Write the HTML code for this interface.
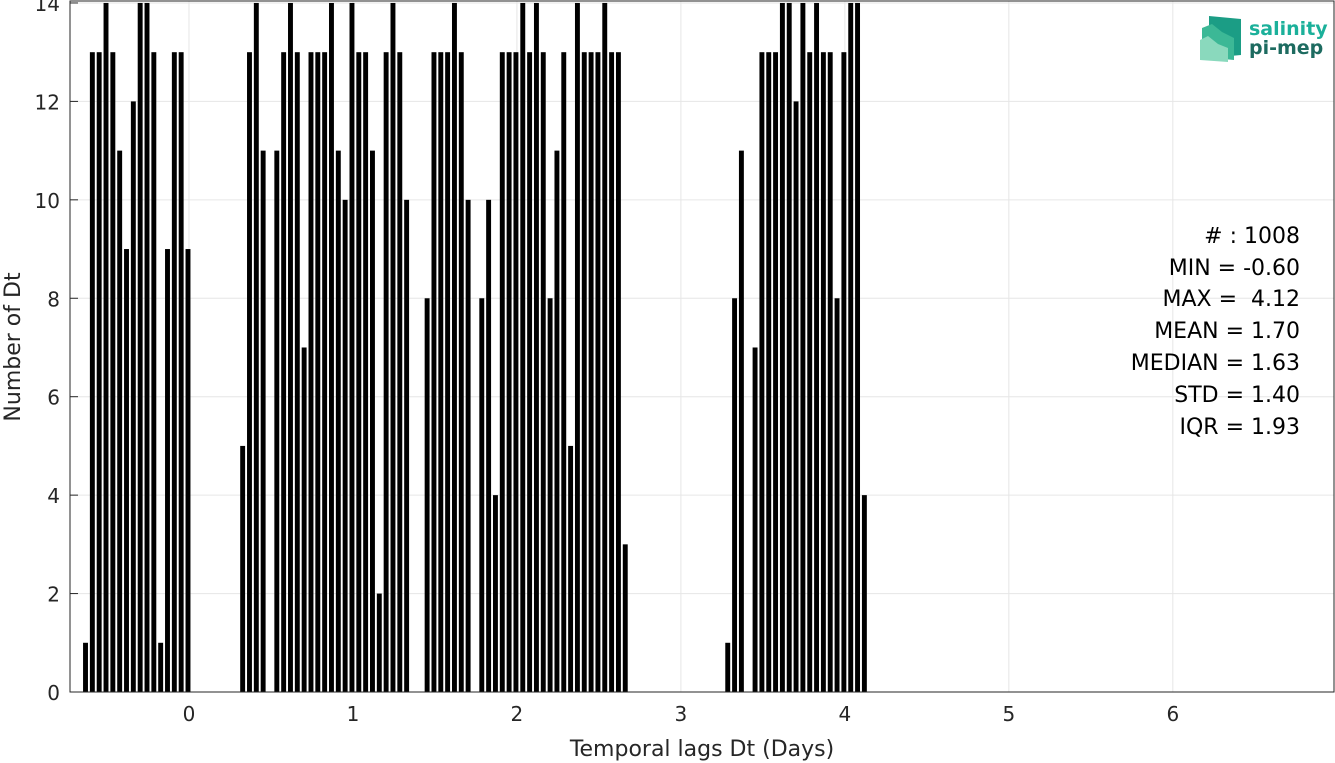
<!DOCTYPE html>
<html><head><meta charset="utf-8"><style>
body{margin:0;background:#fff;}
svg{display:block;font-family:"DejaVu Sans","Liberation Sans",sans-serif;}
</style></head><body>
<svg id="chart" width="1335" height="763" viewBox="0 0 1335 763">
<rect x="0" y="0" width="1335" height="763" fill="#fff"/>
<g id="grid"></g>
<g id="bars"></g>
<g id="axes"></g>
<text x="702" y="756" font-size="22" fill="#262626" text-anchor="middle">Temporal lags Dt (Days)</text>
<text transform="translate(20,347) rotate(-90)" font-size="22" fill="#262626" text-anchor="middle">Number of Dt</text>
<g font-size="22" fill="#000" text-anchor="end">
<text x="1300" y="243"># : 1008</text>
<text x="1300" y="275">MIN = -0.60</text>
<text x="1300" y="306" xml:space="preserve">MAX =  4.12</text>
<text x="1300" y="338">MEAN = 1.70</text>
<text x="1300" y="370">MEDIAN = 1.63</text>
<text x="1300" y="402">STD = 1.40</text>
<text x="1300" y="434">IQR = 1.93</text>
</g>
<g>
<polygon points="1209,16 1241,19 1241,55 1209,58" fill="#1b9d85"/>
<polygon points="1202,28 1212,24 1222,32 1234,38 1234,60 1202,57" fill="#3cb896"/>
<polygon points="1200,40 1208,36 1218,44 1228,48 1228,62 1200,60" fill="#8ad9bd"/>
<text x="1249" y="35" font-size="19" font-weight="bold" fill="#1bb09a">salinity</text>
<text x="1249" y="54" font-size="19" font-weight="bold" fill="#1d6b60">pi-mep</text>
</g>
</svg>
<script>
const binIndex = [-15,-14,-13,-12,-11,-10,-9,-8,-7,-6,-5,-4,-3,-2,-1,0,
 8,9,10,11,13,14,15,16,17,18,19,20,21,22,23,24,25,26,27,28,29,30,31,32,
 35,36,37,38,39,40,41,
 43,44,45,46,47,48,49,50,51,52,53,54,55,56,57,58,59,60,61,62,63,64,
 79,80,81,83,84,85,86,87,88,89,90,91,92,93,94,95,96,97,98,99];
const counts = [1,13,13,14,13,11,9,12,14,14,13,1,9,13,13,9,
 5,13,14,11,11,13,14,13,7,13,13,13,14,11,10,14,13,13,11,2,13,14,13,10,
 8,13,13,13,14,13,10,
 8,10,4,13,13,13,14,13,14,13,8,11,13,5,14,13,13,13,14,13,13,3,
 1,8,11,7,13,13,13,14,14,12,14,13,14,13,13,8,13,14,14,4];
const xTicks = [0,1,2,3,4,5,6];
const yTicks = [0,2,4,6,8,10,12,14];
const binWidthDays = 1/24;

const L=70,R=1334,T=1,B=692;
const xMin=-0.7256,xMax=6.983,yMin=0,yMax=14.04;
const xs=v=>L+(v-xMin)/(xMax-xMin)*(R-L);
const ys=v=>B-(v-yMin)/(yMax-yMin)*(B-T);
const NS='http://www.w3.org/2000/svg';
function mk(tag,attrs,parent){const e=document.createElementNS(NS,tag);for(const k in attrs)e.setAttribute(k,attrs[k]);parent.appendChild(e);return e;}
const grid=document.getElementById('grid'),bars=document.getElementById('bars'),axes=document.getElementById('axes');
xTicks.forEach(t=>{
 const g=mk('line',{x1:xs(t),x2:xs(t),y1:T,y2:B,stroke:'#e6e6e6','stroke-width':1},grid);
 
 
 const lb=mk('text',{x:xs(t),y:B+29,'font-size':20,fill:'#262626','text-anchor':'middle'},axes);
 lb.textContent=t;
 
 
});
yTicks.forEach(t=>{
 const g=mk('line',{x1:L,x2:R,y1:ys(t),y2:ys(t),stroke:'#e6e6e6','stroke-width':1},grid);
 
 
 const tk=mk('line',{x1:L,x2:L+8,y1:ys(t),y2:ys(t),stroke:'#262626','stroke-width':1},axes);
 
 
 const lb=mk('text',{x:L-10,y:ys(t)+8,'font-size':20,fill:'#262626','text-anchor':'end'},axes);
 lb.textContent=t;
 
 
});
binIndex.forEach((k,i)=>{
 const c=k*binWidthDays-0.006;
 const x0=xs(c-binWidthDays*0.36),x1=xs(c+binWidthDays*0.36);
 const r=mk('rect',{x:x0,y:ys(counts[i]),width:x1-x0,height:ys(0)-ys(counts[i]),fill:'#000'},bars);
 
 
});
const frame=mk('rect',{x:L,y:T,width:R-L,height:B-T,fill:'none',stroke:'#262626','stroke-width':1},axes);


</script>
</body></html>
